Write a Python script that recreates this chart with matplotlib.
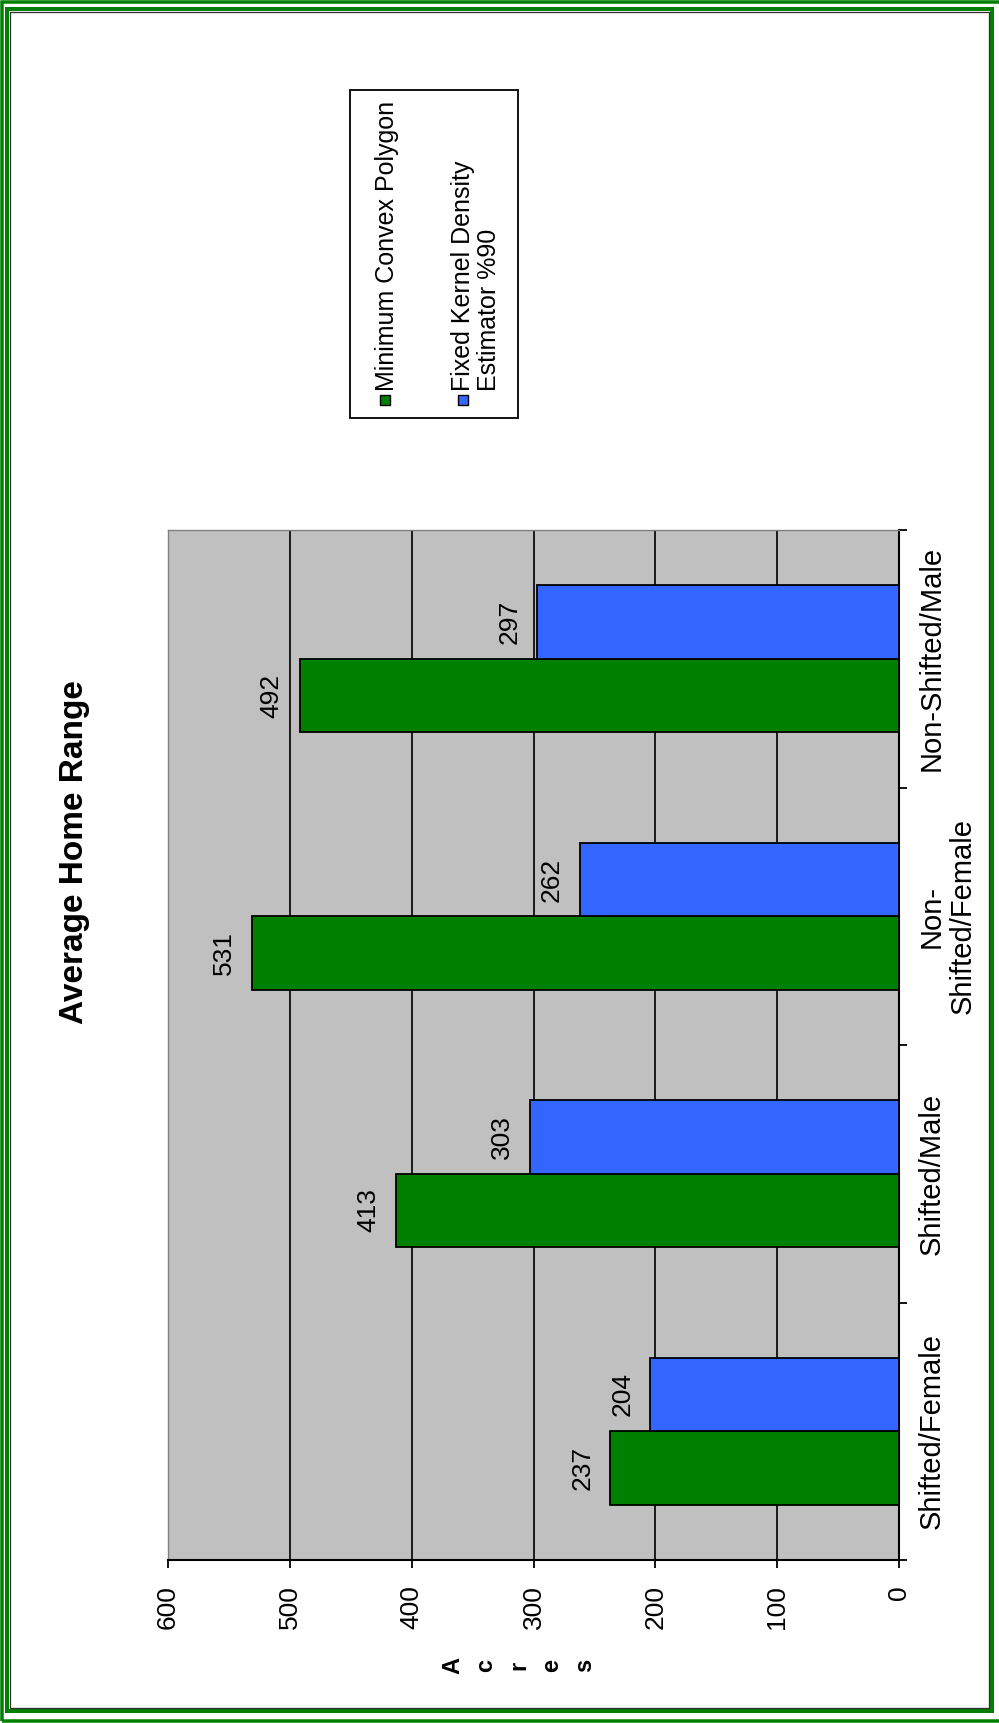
import matplotlib
matplotlib.use("Agg")
import matplotlib.pyplot as plt
from matplotlib.patches import Rectangle
import numpy as np

plt.rcParams['font.family'] = ['Liberation Sans', 'DejaVu Sans']

# data (chart is drawn turned on its side, like the original scan)
categories = ["Shifted/Female", "Shifted/Male", "Non-\nShifted/Female", "Non-Shifted/Male"]
mcp_values = [237, 413, 531, 492]
fkd_values = [204, 303, 262, 297]
series_names = ["Minimum Convex Polygon", "Fixed Kernel Density\nEstimator %90"]
series_colors = ["#008000", "#3366FF"]
value_ticks = [0, 100, 200, 300, 400, 500, 600]

W, H = 999, 1723
fig = plt.figure(figsize=(W / 100, H / 100), dpi=100)
PT = 0.72  # points per pixel at dpi 100


def fx(x):
    return x / W


def fy(y):
    return 1 - y / H


def frame(x0, y0, x1, y1, color, lw_px):
    fig.patches.append(Rectangle((fx(x0), fy(y1)), fx(x1) - fx(x0), fy(y0) - fy(y1),
                                 transform=fig.transFigure, fill=False,
                                 edgecolor=color, linewidth=lw_px * PT, zorder=0))


# page border: double green line + thin dark line
frame(1.6, 1.7, 1015, 1720.5, "#008000", 3.5)
frame(7.0, 9.2, 992.3, 1711.0, "#008000", 4.0)
frame(9.6, 11.8, 989.2, 1708.2, "#303030", 1.3)

ax = fig.add_axes([fx(168), fy(1560), fx(899) - fx(168), fy(530) - fy(1560)])
ax.set_facecolor("#C0C0C0")

y = np.arange(len(categories))
bh = 0.2857
ax.barh(y - bh / 2, mcp_values, height=bh, color=series_colors[0],
        edgecolor="black", linewidth=1.3, zorder=3)
ax.barh(y + bh / 2, fkd_values, height=bh, color=series_colors[1],
        edgecolor="black", linewidth=1.3, zorder=3)

for vals, off in [(mcp_values, -bh / 2), (fkd_values, bh / 2)]:
    for yy, v in zip(y, vals):
        ax.annotate(str(v), xy=(v, yy + off), xytext=(-20, 0), textcoords="offset points",
                    rotation=90, ha="center", va="center", fontsize=19, zorder=4)

ax.set_xlim(600, 0)
ax.set_ylim(-0.5, len(categories) - 0.5)

ax.set_xticks(value_ticks)
ax.set_xticklabels([str(t) for t in value_ticks], rotation=90, fontsize=19)
ax.tick_params(axis="x", direction="out", length=8 * PT, width=1.3, pad=17 * PT)
ax.grid(axis="x", color="#1a1a1a", linewidth=1.4, zorder=1)
ax.set_axisbelow(True)

ax.yaxis.tick_right()
ax.set_yticks(np.arange(len(categories) + 1) - 0.5)
ax.set_yticklabels([])
ax.set_yticks(y, minor=True)
ax.set_yticklabels(categories, minor=True, rotation=90, fontsize=21,
                   ha="left", va="center", multialignment="center", linespacing=1.1)
ax.tick_params(axis="y", which="major", direction="out", length=8 * PT, width=1.3)
ax.tick_params(axis="y", which="minor", length=0, pad=19 * PT)

for s in ["top", "left"]:
    ax.spines[s].set_color("#808080")
    ax.spines[s].set_linewidth(1.0)
for s in ["right", "bottom"]:
    ax.spines[s].set_color("black")
    ax.spines[s].set_linewidth(1.5)

# titles
fig.text(fx(75), fy(852), "Average Home Range", rotation=90, fontsize=24,
         fontweight="bold", ha="center", va="center")
fig.text(fx(519), fy(1665), "A\nc\nr\ne\ns", rotation=90, fontsize=17,
         fontweight="bold", ha="center", va="center", multialignment="center",
         linespacing=1.55)

# legend box
fig.patches.append(Rectangle((fx(350), fy(418)), fx(518) - fx(350), fy(90) - fy(418),
                             transform=fig.transFigure, facecolor="white",
                             edgecolor="black", linewidth=1.3, zorder=1))
for cx, mx, name, col in [(387, 385, series_names[0], series_colors[0]),
                          (476, 463, series_names[1], series_colors[1])]:
    fig.patches.append(Rectangle((fx(mx - 5), fy(405)), fx(10), fy(395) - fy(405),
                                 transform=fig.transFigure, facecolor=col,
                                 edgecolor="black", linewidth=1.0, zorder=2))
    fig.text(fx(cx), fy(391), name, rotation=90, fontsize=18, ha="center", va="bottom",
             multialignment="left", linespacing=1.1, zorder=3)

fig.savefig("out.png", dpi=100)
